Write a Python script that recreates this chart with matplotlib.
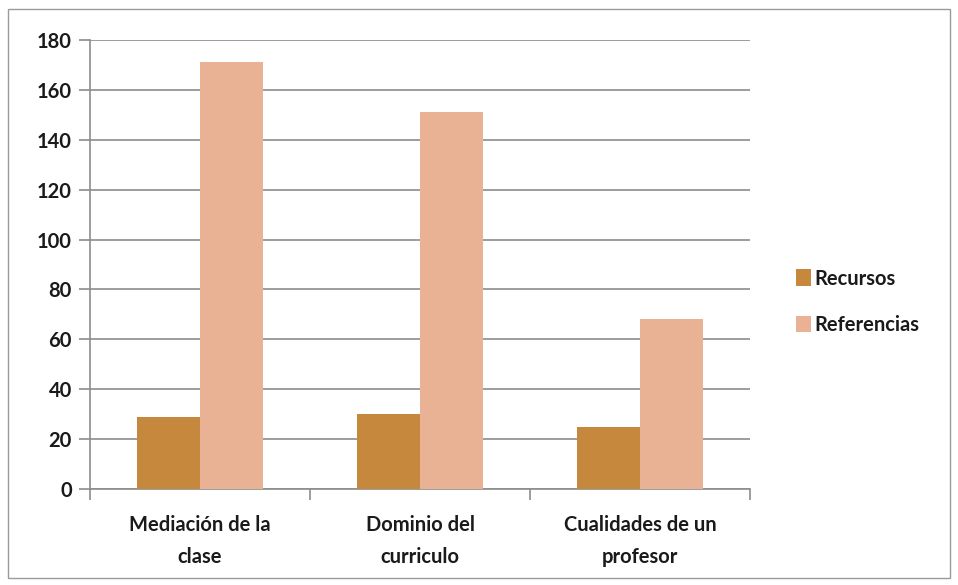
import matplotlib
matplotlib.use("Agg")
import matplotlib.pyplot as plt
import numpy as np
from matplotlib.patches import Rectangle

categories = ["Mediación de la\nclase", "Dominio del\ncurriculo", "Cualidades de un\nprofesor"]
recursos = [29, 30, 25]
referencias = [171, 151, 68]
series_names = ["Recursos", "Referencias"]
yticks = [0, 20, 40, 60, 80, 100, 120, 140, 160, 180]

plt.rcParams['font.family'] = ['Lato', 'DejaVu Sans']

fig = plt.figure(figsize=(9.58, 5.85), dpi=100)
fig.patches.append(Rectangle((8/958, 7/585), 942/958, 569/585, transform=fig.transFigure,
                             fill=False, edgecolor='#9a9a9a', linewidth=1.0))
ax = fig.add_axes([90/958, 1-489/585, 660/958, 449/585])

x = np.arange(len(categories))
w = 0.287
c1, c2 = '#C5883C', '#E9B295'
ax.bar(x - w/2, recursos, w, color=c1, label=series_names[0], zorder=3)
ax.bar(x + w/2, referencias, w, color=c2, label=series_names[1], zorder=3)

ax.set_xlim(-0.5, 2.5)
ax.set_ylim(0, 180)
ax.set_yticks(yticks)
ax.yaxis.grid(True, color='#8c8c8c', linewidth=1.2, zorder=0)
ax.set_axisbelow(True)
for s in ['top', 'right']:
    ax.spines[s].set_visible(False)
for s in ['left', 'bottom']:
    ax.spines[s].set_color('#8c8c8c')
    ax.spines[s].set_linewidth(1.2)
ax.tick_params(axis='y', length=8, color='#8c8c8c', labelsize=14.5, pad=5, width=1.2)
ax.set_xticks([-0.5, 0.5, 1.5, 2.5])
ax.set_xticklabels([])
ax.set_xticks(x, minor=True)
ax.set_xticklabels(categories, minor=True, fontsize=14.5)
ax.tick_params(axis='x', which='major', length=8, color='#8c8c8c', width=1.2)
ax.tick_params(axis='x', which='minor', length=0, pad=19)
for lbl in ax.get_yticklabels() + ax.get_xticklabels(minor=True):
    lbl.set_fontweight('bold')
    lbl.set_color('#1a1a1a')
for lbl in ax.get_xticklabels(minor=True):
    lbl.set_linespacing(1.75)

leg = ax.legend(loc='center left', bbox_to_anchor=(1.055, 0.417), frameon=False,
                handlelength=0.75, handleheight=0.9, handletextpad=0.15,
                labelspacing=1.3, borderpad=0, prop={'weight': 'bold', 'size': 14.5})
for t in leg.get_texts():
    t.set_color('#1a1a1a')
fig.savefig("out.png", dpi=100)
